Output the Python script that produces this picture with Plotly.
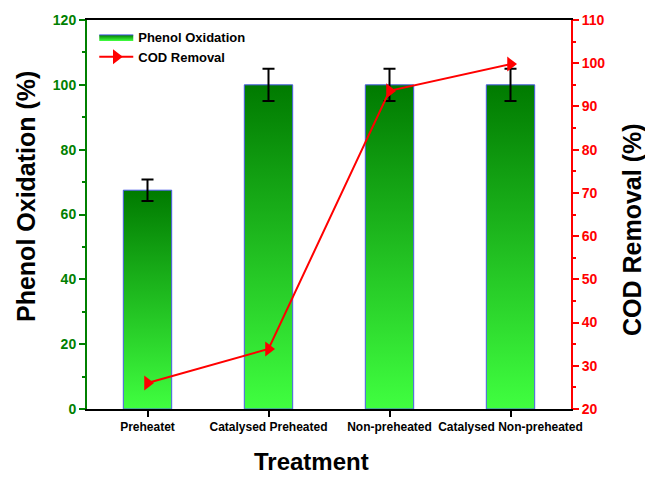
import plotly.graph_objects as go

categories = ["Preheatet", "Catalysed Preheated", "Non-preheated", "Catalysed Non-preheated"]
phenol_oxidation = [67.5, 100, 100, 100]
phenol_error = [3.3, 5, 5, 5]
cod_removal = [26.0, 33.9, 93.6, 99.8]

FONT = "Arial, Liberation Sans, sans-serif"
GREEN = "#008000"
RED = "#ff0000"
bar_w = 0.4

fig = go.Figure()
for i, v in enumerate(phenol_oxidation):
    fig.add_trace(go.Scatter(
        x=[i - bar_w / 2, i + bar_w / 2, i + bar_w / 2, i - bar_w / 2, i - bar_w / 2],
        y=[0, 0, v, v, 0],
        fill="toself", mode="lines",
        line=dict(color="#4a5ae8", width=1),
        fillgradient=dict(type="vertical",
                          colorscale=[[0, "#40ff40"], [1, "#007a00"]]),
        name="Phenol Oxidation", legendgroup="po", showlegend=(i == 0),
        hoverinfo="skip",
    ))

fig.add_trace(go.Scatter(
    x=list(range(len(categories))), y=phenol_oxidation, mode="markers",
    marker=dict(size=1, color="rgba(0,0,0,0)"),
    error_y=dict(type="data", array=phenol_error, color="black", thickness=2, width=6),
    showlegend=False,
))

fig.add_trace(go.Scatter(
    x=list(range(len(categories))), y=cod_removal, mode="lines+markers",
    line=dict(color=RED, width=2),
    marker=dict(symbol="triangle-right", size=13, color=RED),
    name="COD Removal", yaxis="y2",
))

fig.update_layout(
    width=645, height=477,
    margin=dict(l=87, r=74, t=20, b=68),
    plot_bgcolor="white", paper_bgcolor="white",
    font=dict(family=FONT, color="black"),
    showlegend=True,
    legend=dict(x=0.015, y=0.995, xanchor="left", yanchor="top",
                bgcolor="rgba(0,0,0,0)",
                font=dict(size=13, family=FONT, color="black", weight="bold"),
                tracegroupgap=0, itemwidth=34),
    xaxis=dict(
        range=[-0.5, 3.5], tickvals=list(range(len(categories))), ticktext=categories,
        tickfont=dict(size=12, family=FONT, color="black", weight="bold"),
        showline=True, linecolor="black", linewidth=2, mirror=True,
        ticks="outside", ticklen=6, tickwidth=2, tickcolor="black",
        showgrid=False, zeroline=False, automargin=False,
    ),
    yaxis=dict(
        range=[0, 120], tickvals=[0, 20, 40, 60, 80, 100, 120],
        tickfont=dict(size=14, family=FONT, color=GREEN, weight="bold"),
        showline=True, linecolor=GREEN, linewidth=2,
        ticks="outside", ticklen=6, tickwidth=2, tickcolor=GREEN,
        minor=dict(dtick=10, ticks="outside", ticklen=3, tickwidth=1.5, tickcolor=GREEN),
        showgrid=False, zeroline=False, automargin=False,
    ),
    yaxis2=dict(
        overlaying="y", side="right", range=[20, 110], dtick=10,
        tickfont=dict(size=14, family=FONT, color=RED, weight="bold"),
        showline=True, linecolor=RED, linewidth=2,
        ticks="outside", ticklen=6, tickwidth=2, tickcolor=RED,
        minor=dict(dtick=5, ticks="outside", ticklen=3, tickwidth=1.5, tickcolor=RED),
        showgrid=False, zeroline=False, automargin=False,
    ),
    annotations=[
        dict(text="Phenol Oxidation (%)", xref="paper", yref="paper",
             x=(26 - 87) / 484, y=(409 - 197) / 389, textangle=-90, showarrow=False,
             xanchor="center", yanchor="middle",
             font=dict(size=25, family=FONT, color="black", weight="bold")),
        dict(text="COD Removal (%)", xref="paper", yref="paper",
             x=(632 - 87) / 484, y=(409 - 230) / 389, textangle=-90, showarrow=False,
             xanchor="center", yanchor="middle",
             font=dict(size=25, family=FONT, color="black", weight="bold")),
        dict(text="Treatment", xref="paper", yref="paper",
             x=(311 - 87) / 484, y=(409 - 476) / 389, showarrow=False,
             xanchor="center", yanchor="bottom", borderpad=0,
             font=dict(size=24, family=FONT, color="black", weight="bold")),
    ],
)

fig.write_html("out.html", config={"displayModeBar": False},
               post_script="document.body.style.margin='0';")
